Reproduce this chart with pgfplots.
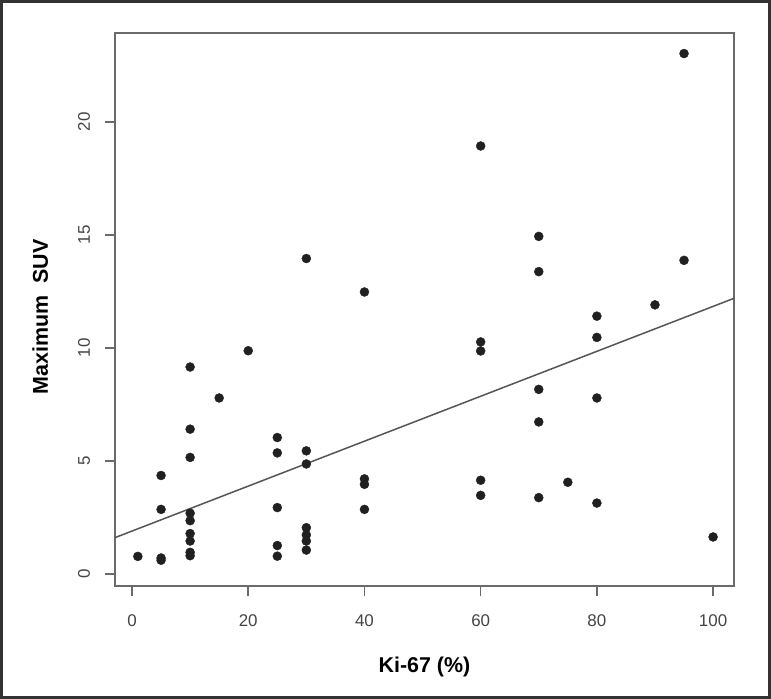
\documentclass[border=0pt]{standalone}
\usepackage{fontspec}
\setmainfont{Liberation Sans}
\usepackage{pgfplots}
\pgfplotsset{compat=1.18}

\definecolor{frame}{HTML}{333333}
\definecolor{boxgray}{HTML}{6A6A6A}
\definecolor{dot}{HTML}{202020}
\definecolor{fitline}{HTML}{555555}
\definecolor{ticktext}{HTML}{444444}

\begin{document}
\begin{tikzpicture}[x=1bp,y=1bp]
  % outer frame of the figure
  \draw[frame, line width=3bp] (1.5,1.5) rectangle (769.5,697.5);
  \begin{axis}[
      at={(115bp,113bp)}, anchor=south west,
      scale only axis,
      width=619bp, height=553bp,
      xmin=-2.93, xmax=103.6,
      ymin=-0.54, ymax=23.93,
      xtick={0,20,...,100},
      ytick={0,5,...,20},
      tick align=outside,
      major tick length=10bp,
      tick style={boxgray, line width=1.5bp},
      axis line style={boxgray, line width=1.6bp},
      xtick pos=bottom, ytick pos=left,
      /pgf/number format/assume math mode=true,
      tick label style={font=\fontsize{17}{17}\selectfont, text=ticktext},
      xticklabel style={yshift=-15bp},
      % rotated labels: yshift moves them to the left
      yticklabel style={rotate=90, anchor=south, yshift=11.5bp},
      xlabel={\bfseries Ki-67 (\%)},
      ylabel={\bfseries Maximum\ \ SUV},
      label style={font=\fontsize{21.5}{21.5}\selectfont},
      xlabel style={at={(axis description cs:0.5,-0.147)}, anchor=center},
      ylabel style={at={(axis description cs:-0.121,0.487)}, anchor=center, rotate=0},
      clip=false,
    ]
    % regression line across the plot region
    \addplot[fitline, line width=1.5bp] coordinates {(-2.93,1.60) (103.6,12.19)};
    % observations
    \addplot[only marks, mark=*, mark size=4.5bp, mark options={fill=dot, draw=dot}] coordinates {
      (1,0.77)
      (5,0.6) (5,0.7) (5,2.85) (5,4.35)
      (10,0.8) (10,0.95) (10,1.45) (10,1.78) (10,2.35) (10,2.68) (10,5.15) (10,6.4) (10,9.15)
      (15,7.78)
      (20,9.87)
      (25,0.78) (25,1.25) (25,2.93) (25,5.35) (25,6.03)
      (30,1.05) (30,1.45) (30,1.72) (30,2.04) (30,4.86) (30,5.44) (30,13.95)
      (40,2.85) (40,3.96) (40,4.2) (40,12.47)
      (60,3.47) (60,4.14) (60,9.86) (60,10.26) (60,18.93)
      (70,3.37) (70,6.72) (70,8.16) (70,13.37) (70,14.93)
      (75,4.05)
      (80,3.13) (80,7.78) (80,10.46) (80,11.4)
      (90,11.9)
      (95,13.87) (95,23.02)
      (100,1.63)
    };
  \end{axis}
\end{tikzpicture}
\end{document}
